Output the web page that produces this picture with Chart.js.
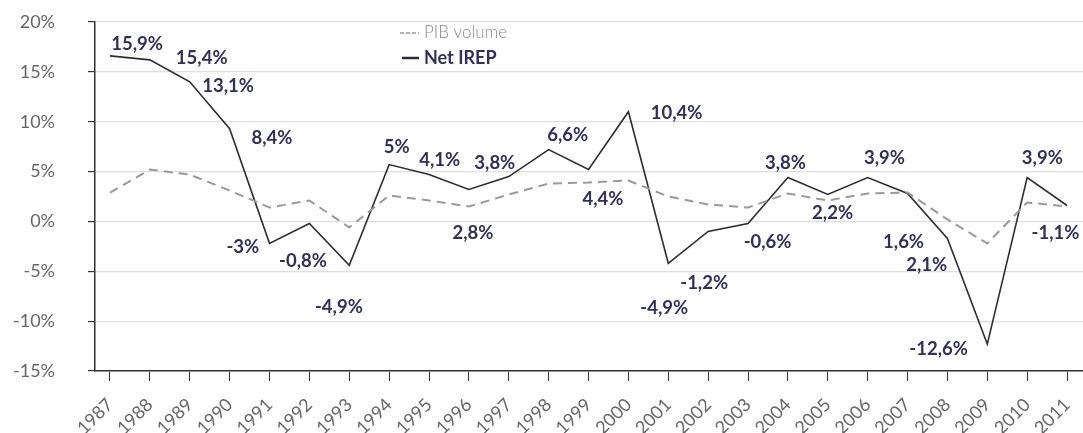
<!DOCTYPE html>
<html>
<head>
<meta charset="utf-8">
<script src="https://cdn.jsdelivr.net/npm/chart.js@4.4.1/dist/chart.umd.min.js"></script>
<style>
    html, body { margin: 0; padding: 0; background: #fff; overflow: hidden; }
    #wrap { width: 1083px; height: 433px; position: relative; }
</style>
</head>
<body>
<div id="wrap"><canvas id="irepChart"></canvas></div>
<script>
// --- DATA ---
const years = [1987, 1988, 1989, 1990, 1991, 1992, 1993, 1994, 1995, 1996, 1997, 1998, 1999,
               2000, 2001, 2002, 2003, 2004, 2005, 2006, 2007, 2008, 2009, 2010, 2011];
const pibVolume = [2.9, 5.2, 4.7, 3.1, 1.4, 2.1, -0.6, 2.6, 2.1, 1.5, 2.7, 3.8, 3.9,
                   4.1, 2.5, 1.7, 1.4, 2.8, 2.1, 2.8, 2.9, 0.2, -2.2, 1.9, 1.5];
const netIrep = [16.6, 16.2, 14.0, 9.3, -2.2, -0.2, -4.4, 5.7, 4.7, 3.2, 4.5, 7.2, 5.2,
                 11.0, -4.2, -1.0, -0.2, 4.4, 2.7, 4.4, 2.8, -1.7, -12.3, 4.4, 1.6];
const yTicks = [-15, -10, -5, 0, 5, 10, 15, 20];

// annotations as printed on the chart (text + where it sits, in axis units)
const noteText = ['15,9%', '15,4%', '13,1%', '8,4%', '-3%', '-0,8%', '-4,9%', '5%', '4,1%', '3,8%',
                  '6,6%', '4,4%', '10,4%', '2,8%', '-4,9%', '-1,2%', '-0,6%', '3,8%', '2,2%', '3,9%',
                  '1,6%', '2,1%', '-12,6%', '3,9%', '-1,1%'];
const noteYear = [1987.68, 1989.3, 1989.96, 1991.06, 1990.33, 1991.84, 1992.74, 1994.19, 1995.27, 1996.65,
                  1998.48, 1999.36, 2001.21, 1996.1, 2000.9, 2001.9, 2003.49, 2003.94, 2005.12, 2006.42,
                  2006.9, 2007.48, 2007.78, 2010.38, 2010.71];
const noteValue = [17.8, 16.4, 13.6, 8.4, -2.6, -4.0, -8.6, 7.5, 6.2, 5.9,
                   8.7, 2.2, 10.9, -1.2, -8.7, -6.2, -2.1, 5.9, 0.8, 6.4,
                   -2.1, -4.4, -12.8, 6.4, -1.2];

// --- PLUGINS ---
const notesPlugin = {
    id: 'notes',
    afterDatasetsDraw(chart) {
        const { ctx, scales: { x, y } } = chart;
        ctx.save();
        ctx.font = 'bold 18.5px Lato';
        ctx.fillStyle = '#30305a';
        ctx.textAlign = 'center';
        ctx.textBaseline = 'middle';
        noteText.forEach((t, i) => {
            ctx.fillText(t, x.getPixelForValue(noteYear[i]), y.getPixelForValue(noteValue[i]));
        });
        ctx.restore();
    }
};

const legendPlugin = {
    id: 'miniLegend',
    afterDraw(chart) {
        const ctx = chart.ctx;
        ctx.save();
        // PIB volume
        ctx.strokeStyle = '#9a9a9a';
        ctx.lineWidth = 1.5;
        ctx.setLineDash([4, 2]);
        ctx.beginPath(); ctx.moveTo(400, 33); ctx.lineTo(419, 33); ctx.stroke();
        ctx.setLineDash([]);
        ctx.font = '300 17px Lato';
        ctx.fillStyle = '#8a8a8a';
        ctx.textBaseline = 'middle';
        ctx.fillText('PIB volume', 424, 33);
        // Net IREP
        ctx.strokeStyle = '#2c2c44';
        ctx.lineWidth = 2.5;
        ctx.beginPath(); ctx.moveTo(402, 58); ctx.lineTo(419, 58); ctx.stroke();
        ctx.font = 'bold 18px Lato';
        ctx.fillStyle = '#30305a';
        ctx.fillText('Net IREP', 424, 58);
        ctx.restore();
    }
};

// --- CHART ---
new Chart(document.getElementById('irepChart'), {
    type: 'line',
    data: {
        datasets: [
            {
                label: 'PIB volume',
                data: years.map((yr, i) => ({ x: yr, y: pibVolume[i] })),
                borderColor: '#9a9a9a',
                borderWidth: 2,
                borderDash: [9, 6],
                pointRadius: 0,
                tension: 0
            },
            {
                label: 'Net IREP',
                data: years.map((yr, i) => ({ x: yr, y: netIrep[i] })),
                borderColor: '#2d2d36',
                borderWidth: 1.6,
                pointRadius: 0,
                tension: 0
            }
        ]
    },
    options: {
        responsive: true,
        maintainAspectRatio: false,
        animation: false,
        layout: { padding: { top: 22, left: 0, right: 0, bottom: 0 } },
        plugins: { legend: { display: false }, tooltip: { enabled: false } },
        scales: {
            x: {
                type: 'linear',
                min: 1986.624,
                max: 2011.4,
                afterBuildTicks: (scale) => { scale.ticks = years.map(v => ({ value: v })); },
                afterFit: (scale) => {
                    scale.height = 62;
                    scale.paddingLeft = 0;
                    scale.paddingRight = 0;
                },
                grid: { drawOnChartArea: false, tickColor: '#333', tickLength: 10 },
                border: { color: '#333', width: 1.5 },
                ticks: {
                    autoSkip: false,
                    minRotation: 45,
                    maxRotation: 45,
                    padding: 13,
                    color: '#666',
                    font: { family: 'Lato', size: 18 },
                    callback: (v) => String(v)
                }
            },
            y: {
                min: -15,
                max: 20,
                afterBuildTicks: (scale) => { scale.ticks = yTicks.map(v => ({ value: v })); },
                afterFit: (scale) => {
                    scale.width = 95;
                    scale.paddingTop = 0;
                    scale.paddingBottom = 0;
                },
                grid: { color: '#dedede', tickColor: '#333', tickLength: 7, lineWidth: 1.2 },
                border: { color: '#333', width: 1.5 },
                ticks: {
                    padding: 33,
                    color: '#666',
                    font: { family: 'Lato', size: 18 },
                    callback: (v) => v + '%'
                }
            }
        }
    },
    plugins: [notesPlugin, legendPlugin]
});
</script>
</body>
</html>
